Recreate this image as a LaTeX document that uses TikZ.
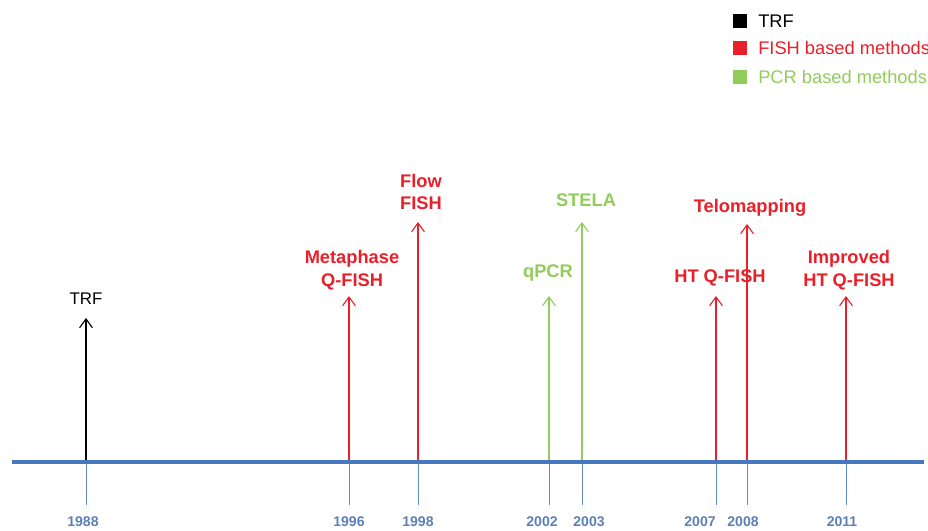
\documentclass[tikz,border=0pt]{standalone}
\usepackage{fontspec}
\setmainfont{Liberation Sans}
\usetikzlibrary{arrows.meta}
\definecolor{fishred}{RGB}{232,32,42}
\definecolor{pcrgreen}{RGB}{146,204,90}
\definecolor{axisblue}{RGB}{70,120,190}
\definecolor{yearblue}{RGB}{92,128,182}

\begin{document}
\begin{tikzpicture}[x=0.025cm,y=-0.025cm,
		method/.style={font=\fontsize{13}{16.3}\selectfont\bfseries, align=center, inner sep=0pt},
		year/.style={font=\fontsize{10}{12}\selectfont\bfseries, text=yearblue, inner sep=0pt},
		rise/.style={-{Straight Barb[length=2.2mm,width=3.2mm]}, line width=0.8pt},
		keybox/.style={minimum size=0.33cm, inner sep=0pt},
		keytext/.style={font=\fontsize{13}{15}\selectfont, anchor=west, inner sep=0pt}]
		\useasboundingbox (0,0) rectangle (928,531);

		% Legend
		\node[keybox, fill=black] (kTRF) at (740,21) {};
		\node[keybox, fill=fishred] (kFISH) at (740,48) {};
		\node[keybox, fill=pcrgreen] (kPCR) at (740,77) {};
		\node[keytext] (lTRF) at (758,21) {TRF};
		\node[keytext, text=fishred] (lFISH) at (758,48) {FISH based methods};
		\node[keytext, text=pcrgreen] (lPCR) at (758,77) {PCR based methods};

		% Years on the axis (tick x / label x / year)
		\foreach \x/\lx/\yr in {86/83/1988, 349/349/1996, 418/418/1998, 549/542/2002, 582/589/2003, 716/700/2007, 747/743/2008, 846/842/2011} {
			\coordinate (a\yr) at (\x,462);
			\coordinate (b\yr) at (\x,505);
			\node[year] (y\yr) at (\lx,522) {\yr};
			\draw[axisblue!85, line width=0.6pt] (a\yr) -- (b\yr);
		}

		% Arrow tips
		\coordinate (t1988) at (86,318);
		\coordinate (t1996) at (349,296);
		\coordinate (t1998) at (418,222);
		\coordinate (t2002) at (549,296);
		\coordinate (t2003) at (582,222);
		\coordinate (t2007) at (716,296);
		\coordinate (t2008) at (747,224);
		\coordinate (t2011) at (846,296);

		% Methods
		\draw[rise, black] (a1988) -- (t1988);
		\draw[rise, fishred] (a1996) -- (t1996);
		\draw[rise, fishred] (a1998) -- (t1998);
		\draw[rise, pcrgreen] (a2002) -- (t2002);
		\draw[rise, pcrgreen] (a2003) -- (t2003);
		\draw[rise, fishred] (a2007) -- (t2007);
		\draw[rise, fishred] (a2008) -- (t2008);
		\draw[rise, fishred] (a2011) -- (t2011);

		\node[font=\fontsize{12}{14}\selectfont, inner sep=0pt] (trf) at (86,299) {TRF};
		\node[method, text=fishred] (metaphase) at (352,270) {Metaphase\\Q-FISH};
		\node[method, text=fishred] (flow) at (421,192) {Flow\\FISH};
		\node[method, text=pcrgreen] (qpcr) at (548,273) {qPCR};
		\node[method, text=pcrgreen] (stela) at (586,200) {STELA};
		\node[method, text=fishred] (htqfish) at (720,278) {HT Q-FISH};
		\node[method, text=fishred] (telomapping) at (750,208) {Telomapping};
		\node[method, text=fishred] (improved) at (849,270) {Improved\\HT Q-FISH};

		% Time axis
		\coordinate (start) at (12,462);
		\coordinate (end) at (924,462);
		\draw[axisblue, line width=2.6pt] (start) -- (end);
	\end{tikzpicture}
\end{document}
